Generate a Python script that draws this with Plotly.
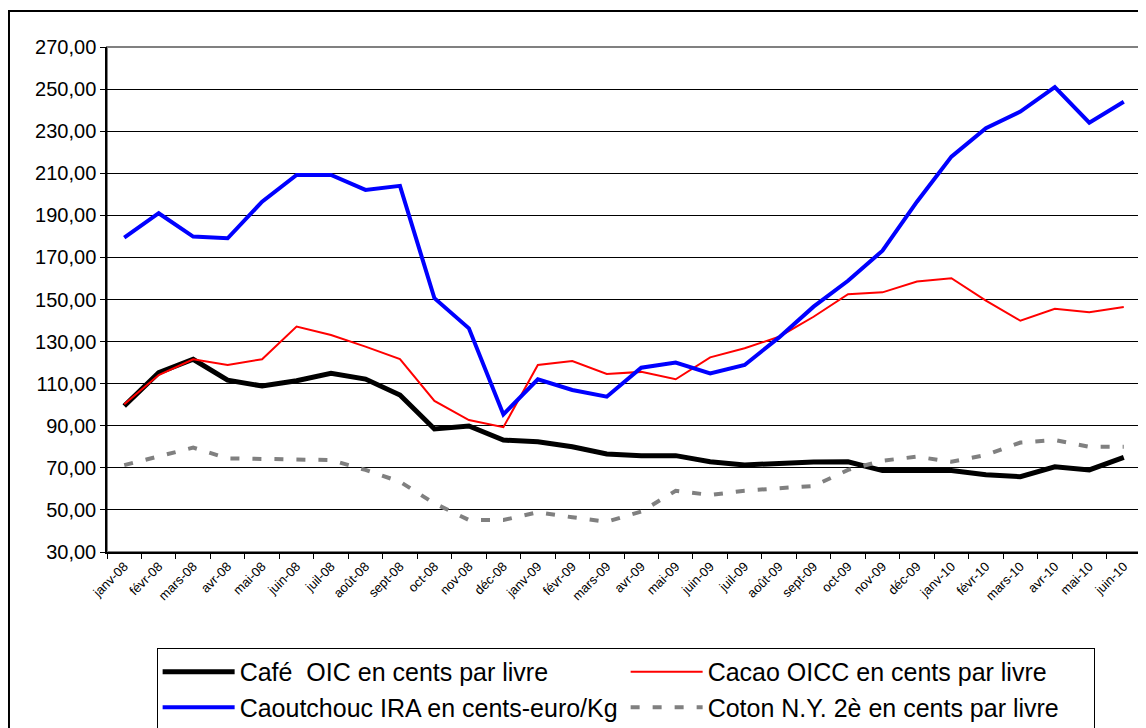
import plotly.graph_objects as go

mois = ["janv-08", "févr-08", "mars-08", "avr-08", "mai-08", "juin-08", "juil-08", "août-08",
        "sept-08", "oct-08", "nov-08", "déc-08", "janv-09", "févr-09", "mars-09", "avr-09",
        "mai-09", "juin-09", "juil-09", "août-09", "sept-09", "oct-09", "nov-09", "déc-09",
        "janv-10", "févr-10", "mars-10", "avr-10", "mai-10", "juin-10"]

cafe = [99.4, 115.2, 121.6, 111.7, 108.9, 111.4, 114.9, 112.2, 104.6, 88.5, 89.9, 83.2,
        82.4, 80.0, 76.6, 75.8, 75.8, 72.9, 71.4, 72.2, 72.8, 72.9, 68.7, 68.7,
        68.7, 66.7, 65.8, 70.5, 69.0, 75.0]

cacao = [100.2, 114.1, 121.6, 118.9, 121.6, 137.1, 133.1, 127.6, 121.7, 101.8, 92.7, 89.3,
         118.9, 120.8, 114.6, 115.6, 112.1, 122.5, 126.8, 132.3, 141.8, 152.5, 153.4, 158.5,
         160.1, 149.5, 139.9, 145.6, 143.9, 146.4]

caoutchouc = [179.4, 191.0, 179.9, 179.1, 196.5, 209.2, 209.2, 202.1, 204.0, 150.6, 136.3, 95.4,
              112.1, 107.0, 103.8, 117.6, 120.0, 114.9, 118.9, 132.0, 146.6, 158.9, 173.2, 196.5,
              217.9, 231.4, 239.3, 250.9, 234.0, 244.0]

coton = [71.3, 75.6, 79.6, 74.5, 74.3, 74.3, 73.7, 69.0, 63.4, 53.1, 45.2, 45.2,
         48.9, 46.5, 44.4, 49.2, 59.1, 57.1, 59.1, 60.3, 61.4, 69.0, 73.4, 75.3,
         72.9, 76.1, 82.0, 83.2, 80.0, 80.0]

fig = go.Figure()
fig.add_trace(go.Scatter(x=mois, y=cafe, mode="lines", name="Café  OIC en cents par livre",
                         line=dict(color="black", width=5)))
fig.add_trace(go.Scatter(x=mois, y=cacao, mode="lines", name="Cacao OICC en cents par livre",
                         line=dict(color="#ff0000", width=2)))
fig.add_trace(go.Scatter(x=mois, y=caoutchouc, mode="lines", name="Caoutchouc IRA en cents-euro/Kg",
                         line=dict(color="#0000ff", width=4)))
fig.add_trace(go.Scatter(x=mois, y=coton, mode="lines", name="Coton N.Y. 2è en cents par livre",
                         line=dict(color="#808080", width=4, dash="9px,13px")))

# cadre gris de la zone de tracé
fig.add_shape(type="rect", xref="paper", yref="paper", x0=0, x1=1, y0=0, y1=1,
              line=dict(color="#808080", width=2), layer="below")
# cadre extérieur du graphique
fig.add_shape(type="rect", xref="paper", yref="paper", x0=-0.0948, x1=1.02, y0=-0.4, y1=1.0713,
              line=dict(color="black", width=2))

# la page html ajoute 8px de marge autour du graphique
fig.update_layout(
    width=1138, height=720,
    margin=dict(l=99, r=5, t=39, b=176, autoexpand=False),
    paper_bgcolor="white", plot_bgcolor="white",
    separators=", ",
    font=dict(family="Liberation Sans, Arial", color="black"),
    showlegend=True,
    legend=dict(orientation="h", x=0.048, y=-0.19, xanchor="left", yanchor="top",
                entrywidth=381, entrywidthmode="pixels", itemwidth=72,
                bordercolor="black", borderwidth=1, bgcolor="white",
                font=dict(family="Liberation Sans Narrow, Arial Narrow, Liberation Sans", size=25),
                tracegroupgap=0),
)
fig.update_xaxes(type="category", tickangle=-45, tickson="boundaries", ticks="outside",
                 ticklen=5, tickcolor="black", showline=True, linecolor="black", linewidth=1.5,
                 showgrid=False, tickfont=dict(size=13), range=[-0.5, 29.5], automargin=False)
fig.update_yaxes(range=[30, 270], dtick=20, tick0=30, tickformat=".2f", ticks="outside",
                 ticklen=5, tickcolor="black", showline=True, linecolor="black", linewidth=1.5,
                 showgrid=True, gridcolor="black", gridwidth=1, tickfont=dict(size=20),
                 zeroline=False, automargin=False)

fig.write_html("out.html")
